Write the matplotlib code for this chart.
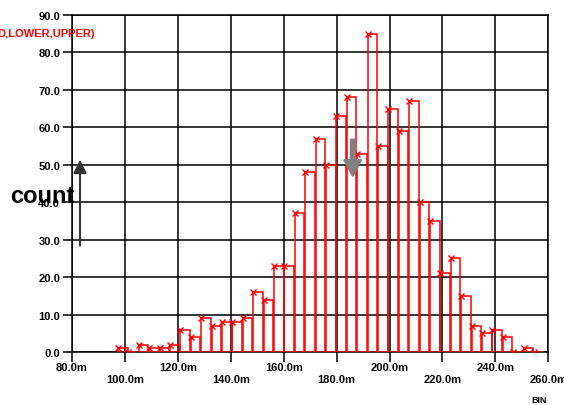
import matplotlib
matplotlib.use('Agg')
import matplotlib.pyplot as plt

# Conteos por bin del histograma
conteos = [1, 0, 2, 1, 1, 2, 6, 4, 9, 7, 8, 8, 9, 16, 14, 23, 23, 37, 48, 57, 50,
           63, 68, 53, 85, 55, 65, 59, 67, 40, 35, 21, 25, 15, 7, 5, 6, 4, 0, 1, 0]
bin_inicio = 97.4   # borde izquierdo del primer bin (m)
bin_ancho = 3.93    # ancho de bin (m)
x_ticks = [80, 100, 120, 140, 160, 180, 200, 220, 240, 260]
y_ticks = [0, 10, 20, 30, 40, 50, 60, 70, 80, 90]
flecha_x = 186.1    # marcador gris
flecha_y = [56.8, 46.9]

plt.rcParams['font.family'] = ['Liberation Sans', 'DejaVu Sans']

bordes = [bin_inicio + i * bin_ancho for i in range(len(conteos))]

fig = plt.figure(figsize=(5.64, 4.06), dpi=100)
ax = fig.add_axes([72 / 564, 1 - 353 / 406, (548.3 - 72) / 564, (353 - 16) / 406])

# ---- HISTOGRAMA ----
ax.bar(bordes, conteos, width=bin_ancho * 0.92, align='edge', fill=False,
       edgecolor='red', linewidth=1.1, zorder=3)
ax.plot(bordes, conteos, 'x', color='red', ms=5, mew=1, zorder=4)

# flecha gris hacia abajo
ax.arrow(flecha_x, flecha_y[0], 0, flecha_y[1] - flecha_y[0], width=1.7,
         head_width=6.7, head_length=4.45, length_includes_head=True,
         color='#808080', zorder=5)

ax.set_xlim(80, 260)
ax.set_ylim(0, 90)
ax.set_xticks(x_ticks)
ax.set_yticks(y_ticks)
ax.set_xticklabels([f'{v:.1f}m' if i % 2 == 0 else f'\n{v:.1f}m'
                    for i, v in enumerate(x_ticks)])
ax.set_yticklabels([f'{v:.1f}' for v in y_ticks])
ax.grid(True, color='black', linewidth=1.1)
ax.set_axisbelow(True)
for s in ax.spines.values():
    s.set_color('black')
    s.set_linewidth(1.1)
ax.tick_params(axis='x', direction='out', length=7.2, width=1.1, pad=0, labelsize=8)
ax.tick_params(axis='y', direction='out', length=6.5, width=1.1, pad=2, labelsize=8)
for lbl in ax.get_xticklabels() + ax.get_yticklabels():
    lbl.set_fontweight('bold')

# ---- TEXTOS ----
fig.text(95 / 564, 1 - 34 / 406, 'D,LOWER,UPPER)', color='red', ha='right',
         va='center', fontsize=8, fontweight='bold')
fig.text(10 / 564, 1 - 203 / 406, 'count', fontsize=17, fontweight='bold',
         ha='left', va='baseline', zorder=6)
fig.text(531 / 564, 1 - 401 / 406, 'BIN', fontsize=6.5, fontweight='bold',
         va='center')
ax.annotate('', xy=(80, 406 - 160.7), xytext=(80, 406 - 246.7),
            xycoords='figure pixels', textcoords='figure pixels',
            arrowprops=dict(arrowstyle='-|>,head_length=0.8,head_width=0.4',
                            color='#333333', lw=1.5, shrinkA=0, shrinkB=0),
            annotation_clip=False)

plt.savefig('out.png', dpi=100)
